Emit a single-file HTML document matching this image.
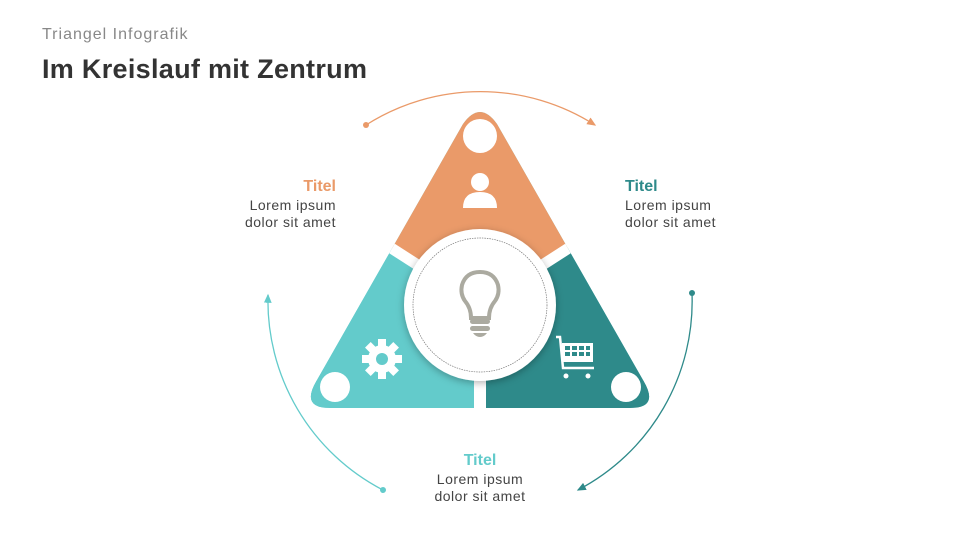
<!DOCTYPE html>
<html><head><meta charset="utf-8"><style>
body{margin:0;width:960px;height:540px;background:#fff;overflow:hidden;font-family:"Liberation Sans",sans-serif}
.t{position:absolute;font-size:14px;color:#444;line-height:17px;letter-spacing:0.5px}
.h{font-weight:bold;font-size:16px;line-height:20px;letter-spacing:0}
</style></head><body>
<div class="t" style="left:42px;top:26px;font-size:16px;color:#888;letter-spacing:1px">Triangel Infografik</div>
<div class="t" style="left:42px;top:54px;font-size:27px;line-height:30px;font-weight:bold;color:#333;letter-spacing:0.3px">Im Kreislauf mit Zentrum</div>
<div class="t" style="left:190px;top:177px;width:146px;text-align:right"><div class="h" style="color:#EA9A69">Titel</div>Lorem ipsum<br>dolor sit amet</div>
<div class="t" style="left:625px;top:177px"><div class="h" style="color:#2E8A8A">Titel</div>Lorem ipsum<br>dolor sit amet</div>
<div class="t" style="left:400px;top:451px;width:160px;text-align:center"><div class="h" style="color:#63CBCB">Titel</div>Lorem ipsum<br>dolor sit amet</div>
<svg width="960" height="540" style="position:absolute;left:0;top:0">
<defs>
<clipPath id="tri"><path d="M463,124 Q480,100 497,124 L643,380 Q660,408 630,408 L330,408 Q300,408 317,380 Z"/></clipPath>
<filter id="sh" x="-20%" y="-20%" width="140%" height="140%"><feDropShadow dx="0" dy="2" stdDeviation="4" flood-color="#000" flood-opacity="0.3"/></filter>
<marker id="ao" markerWidth="8" markerHeight="8" refX="6" refY="4" orient="auto"><path d="M0,1 L7,4 L0,7 Z" fill="#EA9A69"/></marker>
<marker id="ac" markerWidth="8" markerHeight="8" refX="6" refY="4" orient="auto"><path d="M0,1 L7,4 L0,7 Z" fill="#63CBCB"/></marker>
<marker id="at" markerWidth="8" markerHeight="8" refX="6" refY="4" orient="auto"><path d="M0,1 L7,4 L0,7 Z" fill="#2E8A8A"/></marker>
</defs>
<path d="M366,125 A213,213 0 0 1 595,125" fill="none" stroke="#EA9A69" stroke-width="1.3" marker-end="url(#ao)"/>
<circle cx="366" cy="125" r="3" fill="#EA9A69"/>
<path d="M383,490 A213,213 0 0 1 268,295" fill="none" stroke="#63CBCB" stroke-width="1.3" marker-end="url(#ac)"/>
<circle cx="383" cy="490" r="3" fill="#63CBCB"/>
<path d="M692,293 A213,213 0 0 1 578,490" fill="none" stroke="#2E8A8A" stroke-width="1.3" marker-end="url(#at)"/>
<circle cx="692" cy="293" r="3" fill="#2E8A8A"/>
<g clip-path="url(#tri)">
<polygon points="480,305 300,420 290,200 300,80 660,80 670,200 660,420" fill="#63CBCB"/>
<polygon points="480,305 360,228 400,80 560,80 600,228" fill="#EA9A69"/>
<polygon points="480,305 600,228 680,300 680,420 480,420" fill="#2E8A8A"/>
<polygon points="480,305 360,228 280,300 280,420 480,420" fill="#63CBCB"/>
<line x1="480" y1="305" x2="480" y2="420" stroke="#fff" stroke-width="12"/>
<line x1="480" y1="305" x2="360" y2="228" stroke="#fff" stroke-width="11"/>
<line x1="480" y1="305" x2="600" y2="228" stroke="#fff" stroke-width="11"/>
</g>
<circle cx="480" cy="136" r="17" fill="#fff"/>
<circle cx="335" cy="387" r="15" fill="#fff"/>
<circle cx="626" cy="387" r="15" fill="#fff"/>
<circle cx="480" cy="305" r="76" fill="#fff" filter="url(#sh)"/>
<circle cx="480" cy="305" r="67" fill="none" stroke="#777" stroke-width="0.7" stroke-dasharray="1.5,1"/>
<circle cx="480" cy="182" r="9" fill="#fff"/>
<path d="M463,208 Q463,192 480,192 Q497,192 497,208 Z" fill="#fff"/>
<g transform="translate(382,359)" fill="#fff">
<circle r="14"/>
<g><rect x="-4" y="-20" width="8" height="40"/><rect x="-4" y="-20" width="8" height="40" transform="rotate(45)"/><rect x="-4" y="-20" width="8" height="40" transform="rotate(90)"/><rect x="-4" y="-20" width="8" height="40" transform="rotate(135)"/></g>
<circle r="6" fill="#63CBCB"/>
</g>
<g stroke="#fff" fill="none" stroke-width="2.5">
<path d="M556,337 L560,337 L563,368 L594,368"/>
<rect x="562" y="343" width="31" height="19" fill="#fff" stroke="none"/>
</g>
<g fill="#2E8A8A"><rect x="565" y="346" width="5" height="4"/><rect x="572" y="346" width="5" height="4"/><rect x="579" y="346" width="5" height="4"/><rect x="586" y="346" width="4" height="4"/><rect x="565" y="352" width="5" height="4"/><rect x="572" y="352" width="5" height="4"/><rect x="579" y="352" width="5" height="4"/><rect x="586" y="352" width="4" height="4"/></g>
<circle cx="566" cy="376" r="2.5" fill="#fff"/><circle cx="588" cy="376" r="2.5" fill="#fff"/>
<path d="M471,318 Q471,308 465,301 Q460,294 462,285 Q466,272 480,272 Q494,272 498,285 Q500,294 495,301 Q489,308 489,318 Z" fill="none" stroke="#ABAAA0" stroke-width="4"/>
<rect x="470" y="319" width="20" height="5" rx="2.5" fill="#ABAAA0"/>
<rect x="470" y="326" width="20" height="5" rx="2.5" fill="#ABAAA0"/>
<path d="M473,333 L487,333 Q484,337 480,337 Q476,337 473,333Z" fill="#ABAAA0"/>
</svg>
</body></html>
